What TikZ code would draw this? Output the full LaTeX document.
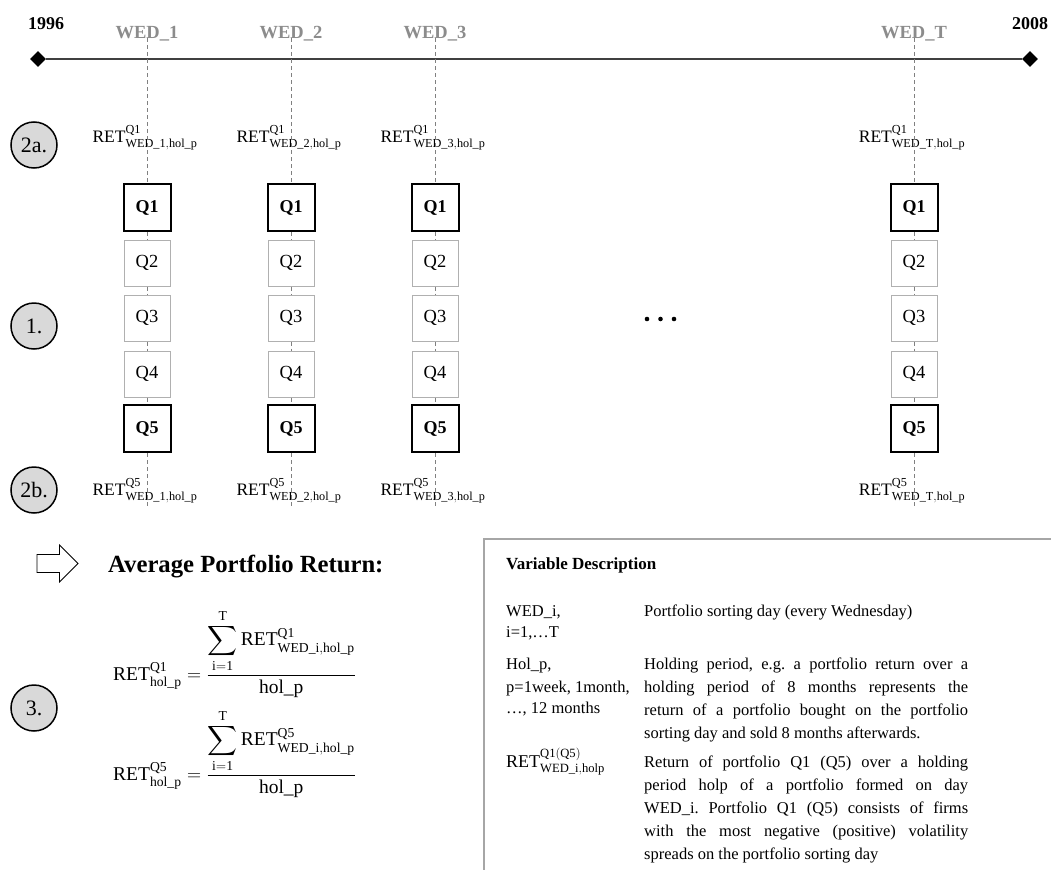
\RequirePackage{fix-cm}
\documentclass[tikz,border=0pt]{standalone}
\usepackage{amsmath}
\usepackage{fontspec}
\setmainfont{Liberation Serif}
\usetikzlibrary{shapes.geometric}
\definecolor{wedgray}{HTML}{8C8C8C}
\definecolor{dashgray}{HTML}{808080}
\definecolor{boxgray}{HTML}{B0B0B0}
\definecolor{circfill}{HTML}{D9D9D9}
\definecolor{tabgray}{HTML}{A6A6A6}
\frenchspacing
\begin{document}
\begin{tikzpicture}[x=1pt,y=-1pt,
  qbold/.style={draw=black,line width=2pt,fill=white,minimum size=47pt,inner sep=0pt,font=\fontsize{18}{21}\selectfont\bfseries},
  qlight/.style={draw=boxgray,line width=1pt,fill=white,minimum size=46pt,inner sep=0pt,font=\fontsize{18.5}{21}\selectfont},
  wed/.style={font=\fontsize{18.5}{21}\selectfont\bfseries,text=wedgray,anchor=base,inner sep=0pt},
  yearlab/.style={font=\fontsize{18}{21}\selectfont\bfseries,anchor=base,inner sep=0pt},
  vline/.style={draw=dashgray,line width=0.8pt,dash pattern=on 4pt off 3pt},
  retlab/.style={font=\fontsize{17.5}{20}\selectfont,anchor=base,inner sep=0pt},
  stepc/.style={circle,draw=black,line width=1.5pt,fill=circfill,minimum size=46pt,inner sep=0pt,font=\fontsize{22}{24}\selectfont},
  tick/.style={diamond,fill=black,minimum size=16pt,inner sep=0pt},
  tabtext/.style={font=\fontsize{16.5}{23}\selectfont,anchor=base west,inner sep=0pt},
  tabpar/.style={font=\fontsize{16.5}{23}\selectfont,anchor=base west,inner sep=0pt,text width=324pt,align=justify},
  formula/.style={font=\fontsize{19.5}{23}\selectfont,anchor=base west,inner sep=0pt}
]
\useasboundingbox (0,0) rectangle (1051,875);

% timeline
\node[yearlab] (y0) at (46,30) {1996};
\node[yearlab] (y1) at (1030,30) {2008};
\node[tick] (t0) at (38,59) {};
\node[tick] (t1) at (1030,59) {};
\draw[line width=1.5pt,draw=black!75] (t0) -- (t1);

% columns
\foreach \n/\x/\lab in {1/147/1,2/291/2,3/435/3,T/914/T}{
  \node[wed] (w\n) at (\x,38) {WED\_\lab};
  \coordinate (e\n) at (\x,506);
  \node[retlab] (ra\n) at (\x-2,142) {$\mathrm{RET}^{\mathrm{Q1}}_{\mathrm{WED\_\lab,hol\_p}}$};
  \node[qbold] (qa\n) at (\x,207.5) {Q1};
  \node[qlight] (qb\n) at (\x,263) {Q2};
  \node[qlight] (qc\n) at (\x,318) {Q3};
  \node[qlight] (qd\n) at (\x,374) {Q4};
  \node[qbold] (qe\n) at (\x,428.5) {Q5};
  \node[retlab] (rb\n) at (\x-2,495) {$\mathrm{RET}^{\mathrm{Q5}}_{\mathrm{WED\_\lab,hol\_p}}$};
  \draw[vline] (w\n.base) -- (qa\n);
  \draw[vline] (qa\n) -- (qb\n);
  \draw[vline] (qb\n) -- (qc\n);
  \draw[vline] (qc\n) -- (qd\n);
  \draw[vline] (qd\n) -- (qe\n);
  \draw[vline] (qe\n) -- (e\n);
}

% ellipsis
\fill (647,319) circle (2.3pt);
\fill (660.5,319) circle (2.3pt);
\fill (674,319) circle (2.3pt);

% step circles
\node[stepc] (c2a) at (34,145) {2a.};
\node[stepc] (c1) at (34,326) {1.};
\node[stepc] (c2b) at (34,490) {2b.};
\node[stepc] (c3) at (34,708) {3.};

% outline arrow and heading
\draw[line width=0.8pt,line join=miter,fill=white] (37,554.5) -- (59.5,554.5) -- (59.5,545) -- (78,563.5) -- (59.5,582) -- (59.5,572.5) -- (37,572.5) -- cycle;
\node[font=\fontsize{24.7}{28}\selectfont\bfseries,anchor=base west,inner sep=0pt] (avg) at (108,572) {Average Portfolio Return:};

% formulas
\node[formula] (f1) at (113,680) {$\mathrm{RET}^{\mathrm{Q1}}_{\mathrm{hol\_p}} = \dfrac{\displaystyle\sum_{\mathrm{i=1}}^{\mathrm{T}}\mathrm{RET}^{\mathrm{Q1}}_{\mathrm{WED\_i,hol\_p}}}{\mathrm{hol\_p}}$};
\node[formula] (f2) at (113,780) {$\mathrm{RET}^{\mathrm{Q5}}_{\mathrm{hol\_p}} = \dfrac{\displaystyle\sum_{\mathrm{i=1}}^{\mathrm{T}}\mathrm{RET}^{\mathrm{Q5}}_{\mathrm{WED\_i,hol\_p}}}{\mathrm{hol\_p}}$};

% variable table
\draw[draw=tabgray,line width=1.2pt] (1051,539) -- (484,539) -- (484,870);
\node[font=\fontsize{17}{20}\selectfont\bfseries,anchor=base west,inner sep=0pt] (vd) at (506,569) {Variable Description};

\node[tabtext] (l1a) at (506,616) {WED\_i,};
\node[tabtext] (l1b) at (506,637) {i=1,…T};
\node[tabtext] (l2a) at (506,669) {Hol\_p,};
\node[tabtext] (l2b) at (506,692) {p=1week, 1month,};
\node[tabtext] (l2c) at (506,713) {…, 12 months};
\node[tabtext,font=\fontsize{18}{21}\selectfont] (l3a) at (506,767) {$\mathrm{RET}^{\mathrm{Q1(Q5)}}_{\mathrm{WED\_i,holp}}$};

\node[tabpar] (r1) at (644,616) {\hyphenpenalty=10000\exhyphenpenalty=10000 Portfolio sorting day (every Wednesday)};
\node[tabpar] (r2) at (644,669) {\hyphenpenalty=10000\exhyphenpenalty=10000 Holding period, e.g. a portfolio return over a\linebreak holding period of 8 months represents the\linebreak return of a portfolio bought on the portfolio\linebreak sorting day and sold 8 months afterwards.};
\node[tabpar] (r3) at (644,767) {\hyphenpenalty=10000\exhyphenpenalty=10000 Return of portfolio Q1 (Q5) over a holding\linebreak period holp of a portfolio formed on day\linebreak WED\_i. Portfolio Q1 (Q5) consists of firms\linebreak with the most negative (positive) volatility\linebreak spreads on the portfolio sorting day};
\end{tikzpicture}
\end{document}
